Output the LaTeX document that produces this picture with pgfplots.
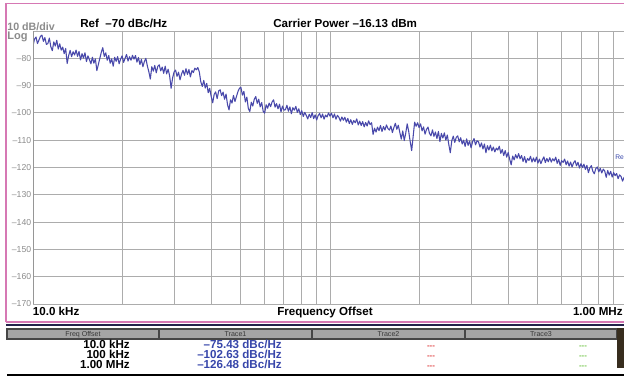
\documentclass[border=0pt]{standalone}
\usepackage{pgfplots}
\pgfplotsset{compat=1.18}
\usepackage{pgfplotstable}
\usepackage{fontspec}
\setmainfont{Liberation Sans}
\definecolor{trace}{RGB}{72,72,170}
\definecolor{gridc}{RGB}{172,172,172}
\definecolor{labc}{RGB}{140,140,140}
\definecolor{pinkc}{RGB}{214,120,180}
\definecolor{navyc}{RGB}{35,35,75}
\definecolor{hdr}{RGB}{165,165,165}
\definecolor{hdrline}{RGB}{70,70,70}
\definecolor{valc}{RGB}{55,70,170}
\definecolor{redc}{RGB}{225,70,70}
\definecolor{greenc}{RGB}{120,200,80}
\definecolor{knob}{RGB}{55,45,30}
% phase noise trace, one value every 0.005 decade from 10 kHz to 1 MHz
\pgfplotstableread[row sep=\\]{
y\\
-75.4\\ -73.0\\ -72.2\\ -74.6\\ -73.3\\ -72.0\\ -71.5\\ -73.8\\ -72.4\\ -74.9\\
-74.6\\ -72.6\\ -75.8\\ -77.2\\ -74.0\\ -75.5\\ -73.4\\ -76.6\\ -74.7\\ -77.0\\
-75.9\\ -78.3\\ -76.4\\ -81.9\\ -79.0\\ -77.1\\ -79.4\\ -77.6\\ -78.8\\ -77.0\\
-79.3\\ -77.5\\ -80.6\\ -78.3\\ -79.9\\ -78.0\\ -81.2\\ -79.1\\ -80.5\\ -82.0\\
-79.6\\ -81.8\\ -80.2\\ -84.5\\ -82.3\\ -80.0\\ -77.8\\ -76.1\\ -79.3\\ -78.0\\
-80.7\\ -79.0\\ -81.8\\ -80.2\\ -82.9\\ -79.6\\ -81.1\\ -79.4\\ -82.0\\ -80.3\\
-79.1\\ -81.5\\ -80.0\\ -78.6\\ -81.0\\ -79.4\\ -80.7\\ -78.9\\ -80.3\\ -79.0\\
-81.4\\ -79.7\\ -82.3\\ -80.4\\ -83.1\\ -81.2\\ -80.0\\ -82.8\\ -84.9\\ -87.6\\
-83.1\\ -84.7\\ -82.6\\ -85.3\\ -83.0\\ -82.4\\ -84.6\\ -83.2\\ -85.5\\ -82.9\\
-85.7\\ -84.0\\ -86.4\\ -91.0\\ -87.2\\ -85.0\\ -84.3\\ -86.6\\ -85.1\\ -87.9\\
-85.8\\ -84.4\\ -86.2\\ -83.8\\ -85.9\\ -84.1\\ -86.8\\ -84.5\\ -85.2\\ -83.6\\
-84.2\\ -83.4\\ -85.0\\ -88.6\\ -90.3\\ -88.1\\ -90.9\\ -89.2\\ -92.6\\ -91.0\\
-94.0\\ -96.3\\ -93.2\\ -92.3\\ -94.8\\ -92.0\\ -91.5\\ -93.7\\ -92.4\\ -95.0\\
-93.1\\ -97.0\\ -98.9\\ -95.2\\ -96.4\\ -93.6\\ -95.8\\ -94.0\\ -92.2\\ -91.0\\
-90.6\\ -93.5\\ -92.1\\ -96.0\\ -94.2\\ -98.4\\ -99.5\\ -96.1\\ -97.5\\ -95.0\\
-94.0\\ -96.5\\ -95.0\\ -97.8\\ -96.2\\ -99.4\\ -100.1\\ -97.0\\ -98.3\\ -96.4\\
-97.7\\ -96.0\\ -95.2\\ -97.9\\ -96.6\\ -98.5\\ -96.8\\ -99.6\\ -97.5\\ -99.0\\
-98.8\\ -97.2\\ -99.4\\ -97.8\\ -100.3\\ -98.1\\ -99.0\\ -97.6\\ -99.8\\ -98.5\\
-100.6\\ -99.2\\ -101.3\\ -99.8\\ -100.9\\ -102.2\\ -100.5\\ -101.7\\ -99.9\\ -102.1\\
-100.7\\ -102.6\\ -101.0\\ -100.2\\ -101.8\\ -100.4\\ -102.3\\ -100.8\\ -101.5\\ -100.0\\
-101.2\\ -100.1\\ -101.8\\ -100.4\\ -102.3\\ -100.9\\ -101.6\\ -103.0\\ -101.5\\ -102.7\\
-101.6\\ -103.4\\ -102.0\\ -103.9\\ -102.5\\ -104.2\\ -102.8\\ -103.6\\ -102.2\\ -104.4\\
-103.0\\ -104.6\\ -103.2\\ -105.1\\ -103.5\\ -104.8\\ -102.9\\ -104.3\\ -103.6\\ -107.9\\
-105.6\\ -107.0\\ -105.2\\ -106.5\\ -104.6\\ -106.8\\ -105.0\\ -106.3\\ -104.4\\ -105.7\\
-106.3\\ -104.8\\ -107.2\\ -105.4\\ -103.8\\ -106.0\\ -104.5\\ -107.1\\ -109.6\\ -106.6\\
-110.1\\ -107.4\\ -104.0\\ -106.8\\ -110.5\\ -113.8\\ -108.6\\ -103.4\\ -104.9\\ -103.6\\
-105.4\\ -104.0\\ -106.6\\ -105.1\\ -107.8\\ -106.0\\ -105.2\\ -107.5\\ -108.4\\ -106.2\\
-108.6\\ -107.0\\ -109.4\\ -106.8\\ -110.5\\ -107.5\\ -109.2\\ -107.3\\ -110.0\\ -108.1\\
-111.6\\ -114.6\\ -110.2\\ -108.5\\ -110.8\\ -109.0\\ -108.4\\ -110.6\\ -109.1\\ -111.4\\
-110.0\\ -112.3\\ -109.5\\ -111.9\\ -110.3\\ -112.8\\ -110.6\\ -109.4\\ -111.7\\ -110.2\\
-110.6\\ -112.5\\ -111.0\\ -113.2\\ -111.4\\ -114.6\\ -112.0\\ -113.6\\ -111.8\\ -113.9\\
-112.5\\ -114.3\\ -112.9\\ -113.6\\ -112.2\\ -114.8\\ -113.4\\ -115.6\\ -113.8\\ -116.2\\
-114.5\\ -117.0\\ -119.0\\ -115.8\\ -117.2\\ -115.3\\ -116.6\\ -114.9\\ -116.8\\ -115.6\\
-117.8\\ -116.0\\ -118.3\\ -116.7\\ -117.4\\ -115.9\\ -118.0\\ -116.5\\ -117.9\\ -116.2\\
-118.4\\ -116.9\\ -118.6\\ -117.2\\ -116.1\\ -118.2\\ -116.7\\ -117.9\\ -116.4\\ -118.0\\
-116.8\\ -117.6\\ -116.2\\ -118.5\\ -117.0\\ -119.2\\ -117.5\\ -118.1\\ -116.9\\ -119.0\\
-117.6\\ -119.5\\ -118.0\\ -119.8\\ -118.3\\ -117.5\\ -119.4\\ -118.1\\ -120.2\\ -118.6\\
-120.0\\ -118.8\\ -120.7\\ -119.2\\ -121.9\\ -120.1\\ -119.3\\ -121.4\\ -122.3\\ -120.4\\
-119.8\\ -121.6\\ -120.3\\ -122.0\\ -120.6\\ -121.3\\ -123.6\\ -121.1\\ -122.8\\ -121.4\\
-123.5\\ -121.9\\ -123.0\\ -122.2\\ -124.1\\ -122.7\\ -123.3\\ -125.0\\ -123.6\\ -124.8\\
-126.5\\
}\tracedata

\begin{document}
\begin{tikzpicture}[x=1pt,y=1pt]
\useasboundingbox (0,0) rectangle (468,285);
\fill[white] (0,0) rectangle (468,285);
% pink frame
\draw[pinkc, line width=0.9pt] (4.5,43.5) -- (4.5,282.5) -- (470,282.5);
\draw[pinkc, line width=0.9pt] (4.5,43.5) -- (470,43.5);
\draw[navyc, line width=1.6pt] (4.5,41.4) -- (470,41.4);

\begin{axis}[
  at={(24.75pt,57pt)}, anchor=south west, scale only axis,
  width=445.5pt, height=204.75pt,
  xmode=log, xmin=1e4, xmax=1e6, ymin=-170, ymax=-70,
  xtick={1e4,1e5,1e6}, xticklabels={},
  minor xtick={2e4,3e4,4e4,5e4,6e4,7e4,8e4,9e4,2e5,3e5,4e5,5e5,6e5,7e5,8e5,9e5},
  ytick={-170,-160,-150,-140,-130,-120,-110,-100,-90,-80},
  yticklabels={\textendash170,\textendash160,\textendash150,\textendash140,\textendash130,\textendash120,\textendash110,\textendash100,\textendash90,\textendash80},
  xmajorgrids, xminorgrids, ymajorgrids,
  grid style={gridc, line width=0.75pt},
  minor grid style={gridc, line width=0.75pt},
  major tick length=0pt, minor tick length=0pt,
  axis line style={gridc, line width=0.75pt},
  y tick label style={font=\fontsize{6.5}{7}\selectfont, text=labc, inner sep=1.2pt},
]
\addplot[trace, line width=0.8pt, line join=round, mark=none]
  table[x expr={10000*10^(\coordindex*0.005)}, y=y] {\tracedata};
\draw[color={rgb,255:red,150;green,150;blue,150}, line width=1.5pt] (rel axis cs:0,0) -- (rel axis cs:0,1);
\end{axis}

% top texts
\node[anchor=base west, inner sep=0pt, text=labc, font=\bfseries\fontsize{8}{9}\selectfont] at (5.3,262.5) {10 dB/div};
\node[anchor=base west, inner sep=0pt, text=labc, font=\bfseries\fontsize{8.3}{9}\selectfont] at (5.3,255.2) {Log};
\node[anchor=base west, inner sep=0pt, font=\bfseries\fontsize{8.7}{9}\selectfont] at (60,264.75) {Ref\ \ \textendash70 dBc/Hz};
\node[anchor=base west, inner sep=0pt, font=\bfseries\fontsize{8.7}{9}\selectfont] at (204.75,264.75) {Carrier Power \textendash16.13 dBm};
% bottom axis texts
\node[anchor=base west, inner sep=0pt, font=\bfseries\fontsize{8.7}{9}\selectfont] at (24.5,48.75) {10.0 kHz};
\node[anchor=base west, inner sep=0pt, font=\bfseries\fontsize{8.7}{9}\selectfont] at (207.75,48.75) {Frequency Offset};
\node[anchor=base east, inner sep=0pt, font=\bfseries\fontsize{8.7}{9}\selectfont] at (467.2,48.75) {1.00 MHz};
% marker label fragment
\node[anchor=base west, inner sep=0pt, text=valc, font=\fontsize{5}{6}\selectfont] at (461.25,165.5) {Re};

% table header
\foreach \a/\b/\t in {5.25/119.25/Freq Offset,119.25/234/Trace1,234/348.75/Trace2,348.75/462.75/Trace3}{
  \fill[hdr] (\a,30.75) rectangle (\b,38.25);
  \draw[hdrline, line width=0.9pt] (\a,30.75) rectangle (\b,38.25);
  \node[anchor=base, inner sep=0pt, text={rgb,255:red,55;green,55;blue,55}, font=\fontsize{5.3}{6}\selectfont] at ({(\a+\b)/2},32.6) {\t};
}
\fill[knob] (462.75,9) rectangle (470,39);
% table rows
\node[anchor=base east, inner sep=0pt, font=\bfseries\fontsize{8.7}{9}\selectfont] at (97.5,23.5) {10.0 kHz};
\node[anchor=base east, inner sep=0pt, font=\bfseries\fontsize{8.7}{9}\selectfont] at (97.5,16) {100 kHz};
\node[anchor=base east, inner sep=0pt, font=\bfseries\fontsize{8.7}{9}\selectfont] at (97.5,8.5) {1.00 MHz};
\node[anchor=base east, inner sep=0pt, text=valc, font=\bfseries\fontsize{8.7}{9}\selectfont] at (211.5,23.5) {\textendash75.43 dBc/Hz};
\node[anchor=base east, inner sep=0pt, text=valc, font=\bfseries\fontsize{8.7}{9}\selectfont] at (211.5,16) {\textendash102.63 dBc/Hz};
\node[anchor=base east, inner sep=0pt, text=valc, font=\bfseries\fontsize{8.7}{9}\selectfont] at (211.5,8.5) {\textendash126.48 dBc/Hz};
\foreach \yy in {23.5,16,8.5}{
  \node[anchor=base, inner sep=0pt, text=redc, font=\bfseries\fontsize{6}{6}\selectfont] at (323.25,\yy) {-{}-{}-};
  \node[anchor=base, inner sep=0pt, text=greenc, font=\bfseries\fontsize{6}{6}\selectfont] at (437.25,\yy) {-{}-{}-};
}
\draw[black, line width=1.6pt] (5.25,3.75) -- (470,3.75);
\end{tikzpicture}
\end{document}
